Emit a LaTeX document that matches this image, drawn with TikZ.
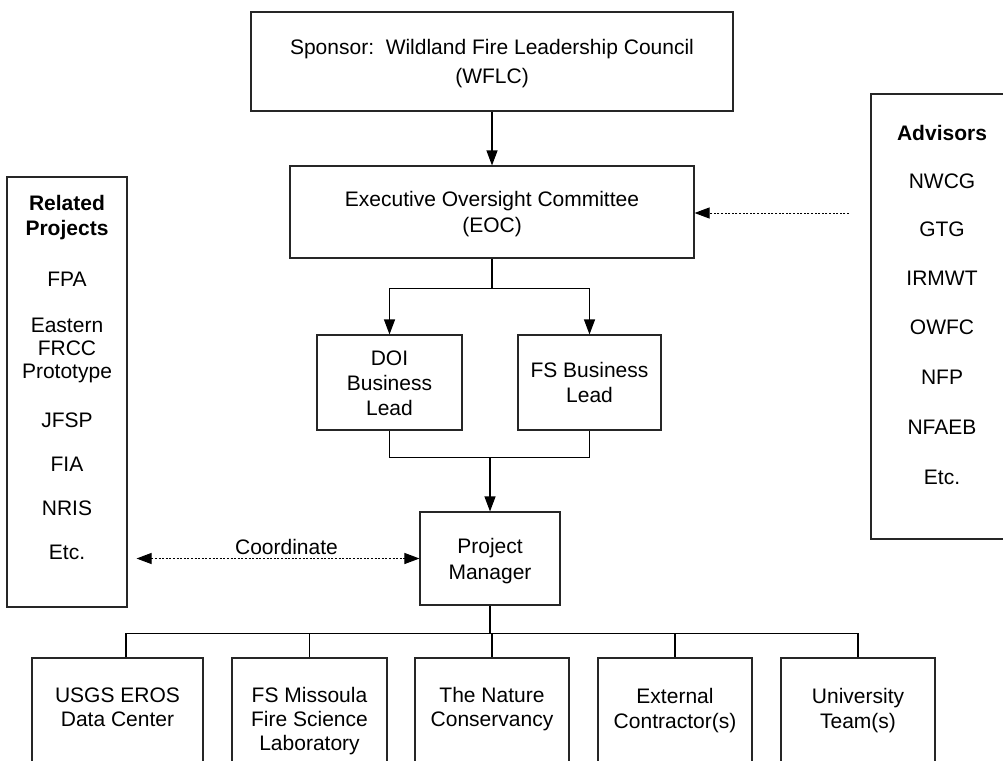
\documentclass[tikz,border=0pt]{standalone}
\usepackage{fontspec}
\setmainfont{Liberation Sans}
\usetikzlibrary{arrows.meta,calc}
\newcommand{\zs}{\rule[-5pt]{0pt}{25pt}}
\newcommand{\bfnt}{\fontsize{21pt}{25pt}\selectfont}
\tikzset{
  box/.style={draw=black!85, line width=1.1pt, fill=white, inner sep=0pt, align=center, font=\bfnt},
  conn/.style={line width=1.1pt, draw=black},
  arr/.style={conn, -{Triangle[length=15pt,width=11pt]}},
  dotarr/.style={line width=1pt, dash pattern=on 2pt off 1.6pt, -{Triangle[length=15pt,width=11pt]}},
  dotdbl/.style={line width=1pt, dash pattern=on 2pt off 1.6pt, {Triangle[length=15pt,width=11pt]}-{Triangle[length=15pt,width=11pt]}},
  item/.style={anchor=base, font=\bfnt, inner sep=0pt},
}
\begin{document}
\begin{tikzpicture}[x=1pt,y=-1pt]
\useasboundingbox (0,0) rectangle (1003,760);
\clip (0,0) rectangle (1003,760);
\fill[white] (0,0) rectangle (1003,760);

% main chain
\node[box, minimum width=482pt, minimum height=99pt] (sponsor) at (492,61.5)
  {\zs Sponsor:\hspace{0.556em}Wildland Fire Leadership Council\\[4pt]\zs (WFLC)};
\node[box, minimum width=404pt, minimum height=92pt] (eoc) at (492,212)
  {\zs Executive Oversight Committee\\[1pt]\zs (EOC)};
\node[box, minimum width=145pt, minimum height=95pt] (doi) at (389.5,382.5)
  {\zs DOI\\\zs Business\\\zs Lead};
\node[box, minimum width=143pt, minimum height=95pt] (fs) at (589.5,382.5)
  {\zs FS Business\\\zs Lead};
\node[box, minimum width=140pt, minimum height=93pt] (pm) at (490,558.5)
  {\zs Project\\[1pt]\zs Manager};

% side boxes
\node[box, minimum width=120pt, minimum height=430pt] (rel) at (67,392) {};
\node[box, minimum width=142pt, minimum height=445pt] (adv) at (942,316.5) {};

\node[item, font=\bfnt\bfseries] (r0) at (67,210.5) {Related};
\node[item, font=\bfnt\bfseries] (r1) at (67,235.5) {Projects};
\node[item] (r2) at (67,286.5) {FPA};
\node[item] (r3) at (67,332.5) {Eastern};
\node[item] (r4) at (67,355.5) {FRCC};
\node[item] (r5) at (67,378.5) {Prototype};
\node[item] (r6) at (67,427.5) {JFSP};
\node[item] (r7) at (67,471.5) {FIA};
\node[item] (r8) at (67,515.5) {NRIS};
\node[item] (r9) at (67,559.5) {Etc.};

\node[item, font=\bfnt\bfseries] (a0) at (942,140.5) {Advisors};
\node[item] (a1) at (942,188.5) {NWCG};
\node[item] (a2) at (942,236.5) {GTG};
\node[item] (a3) at (942,285.5) {IRMWT};
\node[item] (a4) at (942,334.5) {OWFC};
\node[item] (a5) at (942,384.5) {NFP};
\node[item] (a6) at (942,434.5) {NFAEB};
\node[item] (a7) at (942,484.5) {Etc.};

% bottom boxes
\node[box, minimum width=171pt, minimum height=116pt] (usgs) at (117.5,716) {};
\node[box, minimum width=155pt, minimum height=116pt] (miss) at (309.5,716) {};
\node[box, minimum width=154pt, minimum height=116pt] (nat)  at (492,716) {};
\node[box, minimum width=154pt, minimum height=116pt] (ext)  at (675,716) {};
\node[box, minimum width=154pt, minimum height=116pt] (univ) at (858,716) {};

\node[item] (u1) at ($(usgs.north)+(0,45.5)$) {USGS EROS};
\node[item] (u2) at ($(usgs.north)+(0,69.5)$) {Data Center};
\node[item] (m1) at ($(miss.north)+(0,45.5)$) {FS Missoula};
\node[item] (m2) at ($(miss.north)+(0,69.5)$) {Fire Science};
\node[item] (m3) at ($(miss.north)+(0,93.5)$) {Laboratory};
\node[item] (n1) at ($(nat.north)+(0,45.5)$) {The Nature};
\node[item] (n2) at ($(nat.north)+(0,69.5)$) {Conservancy};
\node[item] (e1) at ($(ext.north)+(0,46.5)$) {External};
\node[item] (e2) at ($(ext.north)+(0,71.5)$) {Contractor(s)};
\node[item] (v1) at ($(univ.north)+(0,46.5)$) {University};
\node[item] (v2) at ($(univ.north)+(0,71.5)$) {Team(s)};

% connectors
\draw[arr] (sponsor.south) -- (eoc.north);
\coordinate (j1) at ($(eoc.south)+(0,30)$);
\draw[conn] (eoc.south) -- (j1);
\draw[arr] (j1) -| (doi.north);
\draw[arr] (j1) -| (fs.north);
\coordinate (j2) at ($(pm.north)+(0,-54)$);
\draw[conn] (doi.south) |- (j2) -| (fs.south);
\draw[arr] (j2) -- (pm.north);

\coordinate (advtail) at (849,213);
\draw[dotarr] (advtail) -- (advtail -| eoc.east);

\coordinate (cotail) at ($(rel.east |- pm.west)+(9,0)$);
\draw[dotdbl] (cotail) -- node[pos=0.53, above, inner sep=0pt, yshift=3pt, font=\bfnt] (colab) {Coordinate} (pm.west);

\coordinate (jb) at ($(pm.south)+(0,28)$);
\draw[line width=2pt] (pm.south) -- (jb);
\draw[conn, line width=1.3pt] ([xshift=8.5pt]usgs.north) |- (jb) -| (univ.north);
\draw[conn] (jb) -| (miss.north);
\draw[conn] (jb) -| (nat.north);
\draw[conn] (jb) -| (ext.north);
\end{tikzpicture}
\end{document}
